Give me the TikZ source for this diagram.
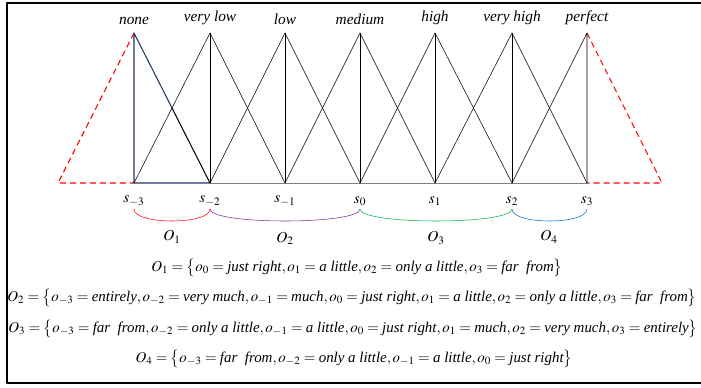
\documentclass[tikz,border=0pt]{standalone}
\usepackage{mathptmx}
\usepackage[no-math]{fontspec}
\setmainfont{Liberation Serif}
\definecolor{noneblue}{RGB}{31,56,100}
\definecolor{oviolet}{RGB}{112,48,160}
\definecolor{ogreen}{RGB}{0,176,80}
\definecolor{oblue}{RGB}{0,112,192}
\tikzset{
  term/.style={font=\itshape\fontsize{11.5}{13}\selectfont, inner sep=1pt, yshift=5pt},
  slabel/.style={font=\fontsize{11.5}{13}\selectfont, inner sep=1pt},
  eqn/.style={font=\fontsize{11.2}{13}\selectfont, inner sep=0pt},
  ext/.style={red, dashed, dash pattern=on 4.5pt off 3pt, thick},
}
\begin{document}
\begin{tikzpicture}[x=0.75pt,y=-0.75pt,line join=round]
  \useasboundingbox (0,0) rectangle (701,387);
  % frame (right side runs off the page)
  \draw[thick] (703,3) -- (7,3) -- (7,383) -- (703,383);

  % grid points of the scale
  \foreach \i/\x in {m3/134,m2/210,m1/285,0/360,1/435,2/512,3/587} {
    \coordinate (b\i) at (\x,183);
    \coordinate (t\i) at (\x,33);
    \coordinate (a\i) at (\x,209);
  }
  \coordinate (lft) at (58,183);
  \coordinate (rgt) at (662,183);
  \coordinate (cross) at (172,108);

  % extension to the virtual terms
  \draw[ext] (tm3) -- (lft) -- (bm3);
  \draw[ext] (t3) -- (rgt) -- (b3);

  % membership triangles
  \draw[gray] (bm2) -- (b3);
  \draw[noneblue, thick] (tm3) -- (bm3) -- (bm2) -- cycle;
  \draw (cross) -- (bm2);
  \foreach \l/\c/\r in {m3/m2/m1,m2/m1/0,m1/0/1,0/1/2,1/2/3} {
    \draw (b\l) -- (t\c) -- (b\r);
    \draw (t\c) -- (b\c);
  }
  \draw (b2) -- (t3) -- (b3);

  % linguistic terms
  \node[term, above] (none) at (tm3) {none};
  \node[term, above] (vlow) at (tm2) {very low};
  \node[term, above] (low) at (tm1) {low};
  \node[term, above] (med) at (t0) {medium};
  \node[term, above] (high) at (t1) {high};
  \node[term, above] (vhigh) at (t2) {very high};
  \node[term, above] (perf) at (t3) {perfect};

  % term indices
  \node[slabel] (sm3) at (134,201) {$s_{-3}$};
  \node[slabel] (sm2) at (210,201) {$s_{-2}$};
  \node[slabel] (sm1) at (285,201) {$s_{-1}$};
  \node[slabel] (s0) at (360,201) {$s_{0}$};
  \node[slabel] (s1) at (435,201) {$s_{1}$};
  \node[slabel] (s2) at (512,201) {$s_{2}$};
  \node[slabel] (s3) at (587,201) {$s_{3}$};

  % the four ranges
  \draw[red] (am3) .. controls (134,225) and (210,225) .. (am2);
  \draw[oviolet] (am2) .. controls (210,225) and (360,225) .. (a0);
  \draw[ogreen] (a0) .. controls (360,225) and (512,225) .. (a2);
  \draw[oblue] (a2) .. controls (512,225) and (587,225) .. (a3);
  \node[slabel] (o1) at (172,237) {$O_1$};
  \node[slabel] (o2) at (285,238) {$O_2$};
  \node[slabel] (o3) at (436,238) {$O_3$};
  \node[slabel] (o4) at (549,237) {$O_4$};

  % sets of the ranges
  \node[eqn] (eq1) at (357,268) {$O_1=\bigl\{o_0=\textit{just right},o_1=\textit{a little},o_2=\textit{only a little},o_3=\textit{far\ \ from}\bigr\}$};
  \node[eqn] (eq2) at (352,298) {$O_2=\bigl\{o_{-3}=\textit{entirely},o_{-2}=\textit{very much},o_{-1}=\textit{much},o_0=\textit{just right},o_1=\textit{a little},o_2=\textit{only a little},o_3=\textit{far\ \ from}\bigr\}$};
  \node[eqn] (eq3) at (353,329) {$O_3=\bigl\{o_{-3}=\textit{far\ \ from},o_{-2}=\textit{only a little},o_{-1}=\textit{a little},o_0=\textit{just right},o_1=\textit{much},o_2=\textit{very much},o_3=\textit{entirely}\bigr\}$};
  \node[eqn] (eq4) at (354,359) {$O_4=\bigl\{o_{-3}=\textit{far\ \ from},o_{-2}=\textit{only a little},o_{-1}=\textit{a little},o_0=\textit{just right}\bigr\}$};
\end{tikzpicture}
\end{document}
